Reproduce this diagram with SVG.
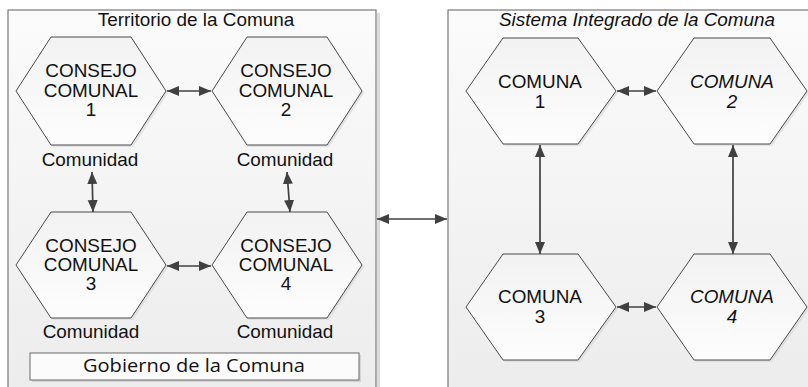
<svg xmlns="http://www.w3.org/2000/svg" width="808" height="387" viewBox="0 0 808 387">
<style>
  .panel { fill: url(#panelGrad); stroke: #7a7a7a; stroke-width: 1.2; }
  .hex { fill: url(#hexGrad); stroke: #4a4a4a; stroke-width: 1; }
  .hexsh { fill: #d6d6d6; opacity: 0.6; }
  .t { font-family: "Liberation Sans", Arial, sans-serif; font-size: 17.5px; fill: #111; text-anchor: middle; }
  .it { font-style: italic; }
  .gob { font-family: "Open Sans", "Liberation Sans", sans-serif; font-size: 18.5px; fill: #111; text-anchor: middle; }
  .conn line { stroke: #404040; stroke-width: 1.7; marker-start: url(#arr); marker-end: url(#arr); }
</style>
<defs>
  <linearGradient id="panelGrad" x1="0" y1="0" x2="0" y2="1">
    <stop offset="0" stop-color="#fbfbfb"/>
    <stop offset="1" stop-color="#ececec"/>
  </linearGradient>
  <linearGradient id="hexGrad" x1="0" y1="0" x2="0" y2="1">
    <stop offset="0" stop-color="#f2f2f2"/>
    <stop offset="1" stop-color="#fdfdfd"/>
  </linearGradient>
  <marker id="arr" markerUnits="userSpaceOnUse" markerWidth="13" markerHeight="11" refX="12" refY="5" orient="auto-start-reverse">
    <path d="M0,0 L12,5 L0,10 z" fill="#404040"/>
  </marker>
</defs>
<rect width="808" height="387" fill="#ffffff"/>

<g id="panel-territorio">
  <rect x="377" y="13" width="3" height="380" fill="#dcdcdc"/>
  <rect class="panel" x="8" y="10" width="368" height="390"/>
  <g transform="translate(196,26) scale(1.08,1)"><text class="t" x="0" y="0">Territorio de la Comuna</text></g>
</g>

<g id="panel-sistema">
  <rect class="panel" x="448" y="10" width="380" height="390"/>
  <g transform="translate(637,26) scale(1.08,1)"><text class="t it" x="0" y="0">Sistema Integrado de la Comuna</text></g>
</g>

<g id="cc1">
  <polygon class="hexsh" points="18,93 53,39 133,39 168,93 133,147 53,147"/>
  <polygon class="hex" points="16,91 51,37 131,37 166,91 131,145 51,145"/>
  <g transform="translate(91,0) scale(1.08,1)">
    <text class="t" x="0" y="77">CONSEJO</text>
    <text class="t" x="0" y="97">COMUNAL</text>
    <text class="t" x="0" y="116">1</text>
  </g>
  <g transform="translate(90,166) scale(1.08,1)"><text class="t" x="0" y="0">Comunidad</text></g>
</g>

<g id="cc2">
  <polygon class="hexsh" points="214,93 249,39 329,39 364,93 329,147 249,147"/>
  <polygon class="hex" points="212,91 247,37 327,37 362,91 327,145 247,145"/>
  <g transform="translate(286,0) scale(1.08,1)">
    <text class="t" x="0" y="77">CONSEJO</text>
    <text class="t" x="0" y="97">COMUNAL</text>
    <text class="t" x="0" y="116">2</text>
  </g>
  <g transform="translate(285,166) scale(1.08,1)"><text class="t" x="0" y="0">Comunidad</text></g>
</g>

<g id="cc3">
  <polygon class="hexsh" points="18,267 53,214 133,214 168,267 133,320 53,320"/>
  <polygon class="hex" points="16,265 51,212 131,212 166,265 131,318 51,318"/>
  <g transform="translate(91,0) scale(1.08,1)">
    <text class="t" x="0" y="252">CONSEJO</text>
    <text class="t" x="0" y="271">COMUNAL</text>
    <text class="t" x="0" y="290">3</text>
  </g>
  <g transform="translate(91,338) scale(1.08,1)"><text class="t" x="0" y="0">Comunidad</text></g>
</g>

<g id="cc4">
  <polygon class="hexsh" points="214,267 249,214 329,214 364,267 329,320 249,320"/>
  <polygon class="hex" points="212,265 247,212 327,212 362,265 327,318 247,318"/>
  <g transform="translate(286,0) scale(1.08,1)">
    <text class="t" x="0" y="252">CONSEJO</text>
    <text class="t" x="0" y="271">COMUNAL</text>
    <text class="t" x="0" y="290">4</text>
  </g>
  <g transform="translate(285,338) scale(1.08,1)"><text class="t" x="0" y="0">Comunidad</text></g>
</g>

<g id="gobierno">
  <rect x="32" y="355" width="329" height="27" fill="#d4d4d4"/>
  <rect x="30" y="353" width="329" height="27" fill="#fbfbfb" stroke="#6a6a6a" stroke-width="1"/>
  <text class="gob" x="194" y="372" textLength="222" lengthAdjust="spacingAndGlyphs">Gobierno de la Comuna</text>
</g>

<g id="comuna1">
  <polygon class="hexsh" points="468,93 505,40 580,40 618,93 580,146 505,146"/>
  <polygon class="hex" points="466,91 503,38 578,38 616,91 578,144 503,144"/>
  <g transform="translate(540,0) scale(1.08,1)">
    <text class="t" x="0" y="88">COMUNA</text>
    <text class="t" x="0" y="108">1</text>
  </g>
</g>

<g id="comuna2">
  <polygon class="hexsh" points="659,93 696,40 772,40 809,93 772,146 696,146"/>
  <polygon class="hex" points="657,91 694,38 770,38 807,91 770,144 694,144"/>
  <g transform="translate(732,0) scale(1.08,1)">
    <text class="t it" x="0" y="88">COMUNA</text>
    <text class="t it" x="0" y="108">2</text>
  </g>
</g>

<g id="comuna3">
  <polygon class="hexsh" points="468,309 505,256 580,256 618,309 580,362 505,362"/>
  <polygon class="hex" points="466,307 503,254 578,254 616,307 578,360 503,360"/>
  <g transform="translate(540,0) scale(1.08,1)">
    <text class="t" x="0" y="303">COMUNA</text>
    <text class="t" x="0" y="323">3</text>
  </g>
</g>

<g id="comuna4">
  <polygon class="hexsh" points="659,309 696,256 772,256 809,309 772,362 696,362"/>
  <polygon class="hex" points="657,307 694,254 770,254 807,307 770,360 694,360"/>
  <g transform="translate(732,0) scale(1.08,1)">
    <text class="t it" x="0" y="303">COMUNA</text>
    <text class="t it" x="0" y="323">4</text>
  </g>
</g>

<g id="connectors" class="conn">
  <line x1="167" y1="91" x2="211" y2="91"/>
  <line x1="167" y1="266" x2="211" y2="266"/>
  <line x1="92" y1="172" x2="93" y2="212"/>
  <line x1="287" y1="172" x2="290" y2="212"/>
  <line x1="377" y1="219" x2="447" y2="219"/>
  <line x1="617" y1="91" x2="656" y2="91"/>
  <line x1="617" y1="307" x2="656" y2="307"/>
  <line x1="540" y1="145" x2="540" y2="254"/>
  <line x1="733" y1="145" x2="733" y2="254"/>
</g>
</svg>
